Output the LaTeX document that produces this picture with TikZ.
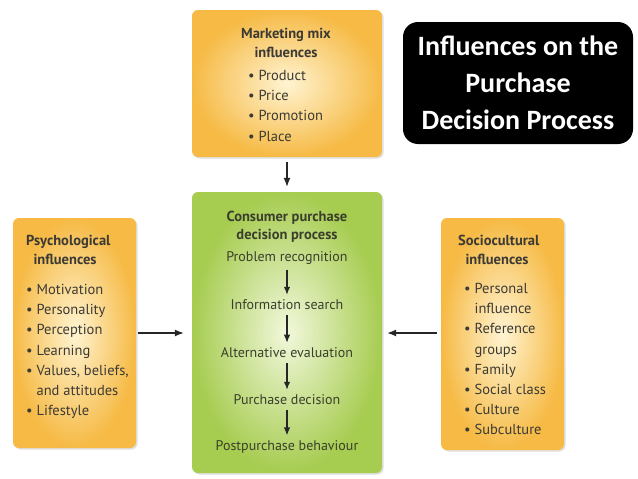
\documentclass[tikz,border=0pt]{standalone}
\usepackage{fontspec}
\setmainfont{PT Sans}
\newfontfamily\titlefont{Carlito}
\usetikzlibrary{arrows.meta,shadings,shadows}
\definecolor{orangeedge}{HTML}{F6BA45}
\definecolor{orangemid}{HTML}{FFF4D2}
\definecolor{greenedge}{HTML}{A6CC50}
\definecolor{greenmid}{HTML}{F2F8DC}
\definecolor{boxtext}{HTML}{3C3A34}
\definecolor{greentext}{HTML}{3A3F2C}
\tikzset{
  glow/.style={general shadow={fill=black!12, shadow scale=1.0, shadow xshift=1.5pt, shadow yshift=-1.5pt}},
  obox/.style={rounded corners=6pt, inner color=orangemid, outer color=orangeedge, draw=none, glow},
  gbox/.style={rounded corners=6pt, inner color=greenmid, outer color=greenedge, draw=none, glow},
  head/.style={font=\fontsize{14.5}{19}\selectfont\bfseries, text=boxtext, align=center, inner sep=0pt},
  item/.style={font=\fontsize{14.5}{20.2}\selectfont, text=boxtext, align=left, inner sep=0pt, anchor=north west},
  stepname/.style={font=\fontsize{14}{17}\selectfont, text=greentext, inner sep=0pt},
  conn/.style={-{Latex[length=9pt,width=7pt]}, line width=1.3pt, draw=black!85},
  sconn/.style={-{Latex[length=8pt,width=6.5pt]}, line width=1.3pt, draw=black!85}
}
\begin{document}
\begin{tikzpicture}[x=1pt,y=-1pt]
\useasboundingbox[fill=white] (0,0) rectangle (638,479);
% boxes
\node[obox, minimum width=190pt, minimum height=147pt] (mm) at (287,83.5) {};
\node[obox, minimum width=123pt, minimum height=230pt] (psy) at (74.5,333) {};
\node[gbox, minimum width=190pt, minimum height=281pt] (cp) at (287,332.5) {};
\node[obox, minimum width=123pt, minimum height=232pt] (soc) at (502.5,334) {};
\node[fill=black, rounded corners=15pt, minimum width=230pt, minimum height=122pt] (tb) at (518,83) {};
% title
\node[font=\titlefont\fontsize{28}{37}\selectfont\bfseries, text=white, align=center, inner sep=0pt] (tt) at (tb.center) {Influences on the\\Purchase\\Decision Process};
% marketing mix
\node[head] (mmh) at (286,43) {Marketing mix\\influences};
\node[item] (mml) at (248,70) {\textbullet\ Product\\\textbullet\ Price\\\textbullet\ Promotion\\\textbullet\ Place};
% psychological
\node[head, align=left, anchor=north west] (psyh) at (26,235) {Psychological\\\ \ influences};
\node[item] (psyl) at (26,284) {\textbullet\ Motivation\\\textbullet\ Personality\\\textbullet\ Perception\\\textbullet\ Learning\\\textbullet\ Values, beliefs,\\\phantom{\textbullet\ }and attitudes\\\textbullet\ Lifestyle};
% sociocultural
\node[head, align=left, anchor=north west] (soch) at (458,235) {Sociocultural\\\ \ influences};
\node[item] (socl) at (464,283) {\textbullet\ Personal\\\phantom{\textbullet\ }influence\\\textbullet\ Reference\\\phantom{\textbullet\ }groups\\\textbullet\ Family\\\textbullet\ Social class\\\textbullet\ Culture\\\textbullet\ Subculture};
% consumer process
\node[head, text=greentext, font=\fontsize{14.5}{18}\selectfont\bfseries] (cph) at (287,227) {Consumer purchase\\decision process};
\node[stepname] (s1) at (287,258) {Problem recognition};
\node[stepname] (s2) at (287,305) {Information search};
\node[stepname] (s3) at (287,353) {Alternative evaluation};
\node[stepname] (s4) at (287,400) {Purchase decision};
\node[stepname] (s5) at (287,447) {Postpurchase behaviour};
\foreach \a/\b in {s1/s2,s2/s3,s3/s4,s4/s5}
  \draw[sconn, shorten <=5pt, shorten >=5pt] (\a) -- (\b);
% connectors
\draw[conn, shorten <=5pt, shorten >=5pt] (mm.south) -- (cp.north);
\draw[conn, shorten <=2pt, shorten >=8pt] (psy.east |- 0,333) -- (cp.west |- 0,333);
\draw[conn, shorten <=4pt, shorten >=5pt] (soc.west |- 0,333) -- (cp.east |- 0,333);
\end{tikzpicture}
\end{document}
